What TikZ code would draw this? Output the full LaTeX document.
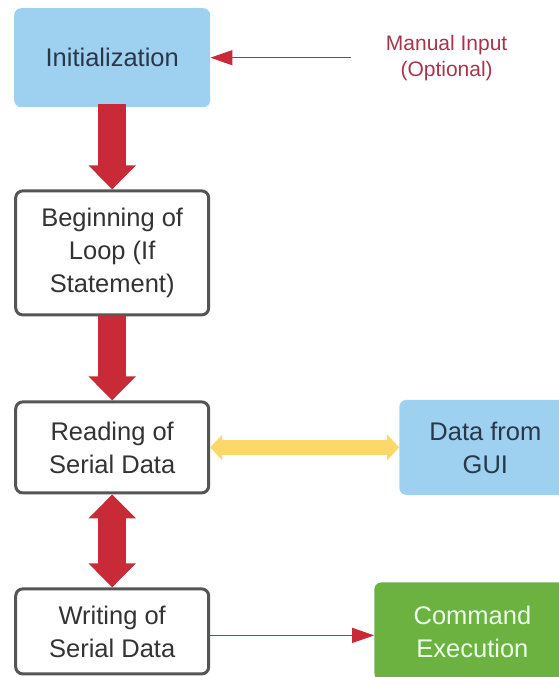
\documentclass[tikz,border=0pt]{standalone}
\usepackage{fontspec}
\setmainfont{Liberation Sans}
\usetikzlibrary{positioning, arrows.meta}

\definecolor{boxblue}{RGB}{158,208,240}
\definecolor{boxgreen}{RGB}{108,178,64}
\definecolor{boxgray}{RGB}{85,85,85}
\definecolor{arrowred}{RGB}{200,42,56}
\definecolor{arrowyellow}{RGB}{252,216,107}
\definecolor{textnavy}{RGB}{40,56,74}
\definecolor{textred}{RGB}{168,52,75}

\begin{document}
\begin{tikzpicture}[
        bluebox/.style={rectangle, rounded corners=7pt, fill=boxblue, text=textnavy, align=center, font=\fontsize{25.5}{33}\selectfont},
        loopbox/.style={rectangle, rounded corners=7pt, draw=boxgray, line width=3pt, fill=white, text=black!80, minimum width=193pt, align=center, font=\fontsize{25.5}{33}\selectfont},
        greenbox/.style={rectangle, rounded corners=7pt, fill=boxgreen, text=white!92!green, align=center, font=\fontsize{25.5}{33}\selectfont},
        fatarrow/.style={draw=arrowred, line width=28pt, -{Triangle[width=46pt, length=24pt]}},
        thinarrow/.style={draw=arrowred, line width=1.2pt, -{Triangle[width=15pt, length=22pt]}}
    ]
        % Main column
        \node[bluebox, minimum width=196pt, minimum height=99pt] (init) {Initialization};
        \node[loopbox, minimum height=124pt, below=82pt of init] (loop) {Beginning of\\Loop (If\\Statement)};
        \node[loopbox, minimum height=91pt, below=84pt of loop] (read) {Reading of\\Serial Data};
        \node[loopbox, minimum height=85pt, below=93pt of read] (write) {Writing of\\Serial Data};

        % Side nodes
        \node[right=172pt of init, text=textred, align=center, font=\fontsize{21}{26}\selectfont] (manual) {Manual Input\\(Optional)};
        \node[bluebox, minimum width=172pt, minimum height=95pt, right=189pt of read] (gui) {Data from\\GUI};
        \node[greenbox, minimum width=196pt, minimum height=98pt, right=164pt of write] (cmd) {Command\\Execution};

        \draw[fatarrow] ([yshift=3pt]init.south) -- (loop.north);
        \draw[fatarrow] ([yshift=1pt]loop.south) -- (read.north);
        \draw[fatarrow, {Triangle[width=46pt, length=24pt]}-{Triangle[width=46pt, length=24pt]}] (read.south) -- (write.north);
        \draw[draw=arrowyellow, line width=15pt, {Triangle[width=25pt, length=12pt]}-{Triangle[width=25pt, length=12pt]}] (read.east) -- (gui.west);

        \draw[thinarrow, shorten <=31pt] (manual.west) -- (init.east);
        \draw[thinarrow] ([yshift=-4pt]write.east) -- ([yshift=-4pt]cmd.west);

        % Page size of the reference
        \pgfresetboundingbox
        \useasboundingbox ([xshift=-14pt, yshift=8pt]init.north west) rectangle ++(559pt,-677pt);
    \end{tikzpicture}
\end{document}
